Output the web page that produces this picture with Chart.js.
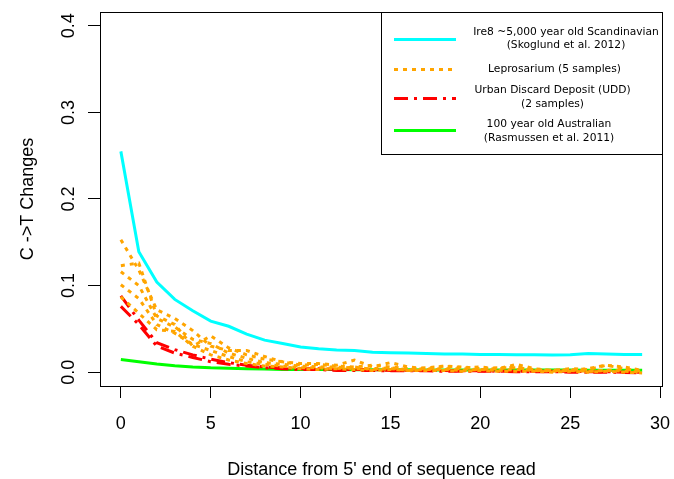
<!DOCTYPE html>
<html lang="en">
<head>
  <meta charset="UTF-8">
  <title>C->T changes by read position</title>
  <script src="https://cdn.jsdelivr.net/npm/chart.js"></script>
  <style>
    html, body { margin: 0; padding: 0; background: #fff; }
    #wrap { width: 674px; height: 479px; }
  </style>
</head>
<body>
  <div id="wrap"><canvas id="damageChart" width="674" height="479"></canvas></div>

  <script>
    // distance from 5' end (x)
    const distance = [0, 1, 2, 3, 4, 5, 6, 7, 8, 9, 10, 11, 12, 13, 14, 15, 16, 17, 18, 19, 20, 21, 22, 23, 24, 25, 26, 27, 28, 29];

    // Ire8 ~5,000 year old Scandinavian
    const ire8 = [0.255, 0.139, 0.104, 0.084, 0.071, 0.059, 0.053, 0.044, 0.037, 0.033, 0.029, 0.027, 0.0255, 0.025, 0.023, 0.0225, 0.022, 0.0215, 0.021, 0.021, 0.0205, 0.0205, 0.020, 0.020, 0.0198, 0.020, 0.0215, 0.021, 0.0205, 0.0205];

    // Leprosarium, 5 samples
    const lepro1 = [0.153, 0.118, 0.072, 0.062, 0.048, 0.030, 0.025, 0.025, 0.018, 0.012, 0.010, 0.010, 0.008, 0.014, 0.006, 0.011, 0.006, 0.004, 0.007, 0.005, 0.006, 0.004, 0.009, 0.004, 0.002, 0.002, 0.004, 0.008, 0.006, 0.002];
    const lepro2 = [0.123, 0.126, 0.065, 0.055, 0.030, 0.042, 0.028, 0.020, 0.015, 0.012, 0.008, 0.009, 0.007, 0.006, 0.008, 0.006, 0.004, 0.005, 0.007, 0.006, 0.004, 0.005, 0.005, 0.003, 0.002, 0.004, 0.003, 0.008, 0.004, 0.001];
    const lepro3 = [0.116, 0.100, 0.062, 0.052, 0.038, 0.033, 0.022, 0.016, 0.011, 0.009, 0.007, 0.006, 0.006, 0.004, 0.004, 0.005, 0.003, 0.004, 0.004, 0.004, 0.003, 0.004, 0.006, 0.002, 0.002, 0.003, 0.001, 0.002, 0.003, 0.001];
    const lepro4 = [0.101, 0.085, 0.055, 0.045, 0.032, 0.025, 0.018, 0.012, 0.009, 0.007, 0.005, 0.005, 0.004, 0.006, 0.003, 0.004, 0.002, 0.003, 0.003, 0.002, 0.003, 0.002, 0.003, 0.002, 0.001, 0.002, 0.001, 0.002, 0.001, 0.000];
    const lepro5 = [0.087, 0.068, 0.049, 0.047, 0.030, 0.020, 0.014, 0.010, 0.007, 0.006, 0.004, 0.003, 0.004, 0.003, 0.002, 0.003, 0.002, 0.002, 0.002, 0.001, 0.002, 0.001, 0.001, 0.001, 0.000, 0.001, 0.000, 0.001, 0.000, -0.001];

    // Urban Discard Deposit, 2 samples
    const udd1 = [0.088, 0.060, 0.034, 0.026, 0.020, 0.015, 0.011, 0.008, 0.006, 0.005, 0.004, 0.004, 0.003, 0.003, 0.003, 0.002, 0.002, 0.002, 0.002, 0.0015, 0.0015, 0.001, 0.001, 0.001, 0.001, 0.001, 0.0005, 0.0005, 0.000, 0.000];
    const udd2 = [0.076, 0.055, 0.030, 0.022, 0.017, 0.012, 0.009, 0.007, 0.005, 0.004, 0.003, 0.003, 0.002, 0.002, 0.002, 0.0015, 0.0015, 0.0015, 0.001, 0.001, 0.001, 0.001, 0.0005, 0.0005, 0.0005, 0.000, 0.000, 0.000, -0.0005, -0.001];

    // 100 year old Australian
    const australian = [0.0145, 0.012, 0.0095, 0.0075, 0.006, 0.005, 0.0045, 0.004, 0.0035, 0.0032, 0.003, 0.003, 0.003, 0.0028, 0.0028, 0.0027, 0.0027, 0.0026, 0.0026, 0.0025, 0.0025, 0.0025, 0.0024, 0.0024, 0.0024, 0.0024, 0.0023, 0.0023, 0.0023, 0.0023];

    const xTicks = [0, 5, 10, 15, 20, 25, 30];
    const yTicks = [0, 0.1, 0.2, 0.3, 0.4];

    const legendRows = [
      { lines: ['Ire8 ~5,000 year old Scandinavian', '(Skoglund et al. 2012)'], color: '#00ffff', dash: [], cx: 566 },
      { lines: ['Leprosarium (5 samples)'], color: '#ffa500', dash: [4, 5], cx: 554.5 },
      { lines: ['Urban Discard Deposit (UDD)', '(2 samples)'], color: '#ff0000', dash: [14, 6, 3, 6], cx: 552.5 },
      { lines: ['100 year old Australian', '(Rasmussen et al. 2011)'], color: '#00ff00', dash: [], cx: 549 }
    ];

    function pts(arr) {
      return arr.map((v, i) => ({ x: distance[i], y: v }));
    }

    function series(arr, color, dash, order) {
      return {
        data: pts(arr),
        borderColor: color,
        borderWidth: 3,
        borderDash: dash,
        pointRadius: 0,
        fill: false,
        tension: 0,
        order: order
      };
    }

    // R-style box around plot + boxed legend in the top right
    const rFrame = {
      id: 'rFrame',
      afterDraw(chart) {
        const { ctx, chartArea: a } = chart;
        ctx.save();
        ctx.strokeStyle = '#000';
        ctx.lineWidth = 1;
        ctx.strokeRect(a.left + 0.5, a.top + 0.5, a.right - a.left - 1, a.bottom - a.top);

        // legend
        const lx = 381, ly = a.top, lw = a.right - 381, lh = 142;
        ctx.fillStyle = '#fff';
        ctx.fillRect(lx, ly, lw, lh);
        ctx.strokeRect(lx + 0.5, ly + 0.5, lw - 1, lh);

        const lineY = [39.5, 69.5, 98.5, 130.5];
        const textY = [[32.5, 45.5], [69], [90.5, 104.5], [124.5, 138]];
        ctx.font = '10.7px "DejaVu Sans"';
        ctx.textAlign = 'center';
        ctx.textBaseline = 'middle';
        legendRows.forEach((row, i) => {
          ctx.beginPath();
          ctx.setLineDash(row.dash);
          ctx.strokeStyle = row.color;
          ctx.lineWidth = 3;
          ctx.moveTo(394, lineY[i]);
          ctx.lineTo(456, lineY[i]);
          ctx.stroke();
          ctx.setLineDash([]);
          ctx.fillStyle = '#000';
          row.lines.forEach((t, j) => ctx.fillText(t, row.cx, textY[i][j]));
        });
        ctx.restore();
      }
    };

    const ctx = document.getElementById('damageChart').getContext('2d');
    new Chart(ctx, {
      type: 'line',
      data: {
        datasets: [
          series(ire8, '#00ffff', [], 1),
          series(lepro1, '#ffa500', [4, 5], 2),
          series(lepro2, '#ffa500', [4, 5], 2),
          series(lepro3, '#ffa500', [4, 5], 2),
          series(lepro4, '#ffa500', [4, 5], 2),
          series(lepro5, '#ffa500', [4, 5], 2),
          series(udd1, '#ff0000', [14, 6, 3, 6], 3),
          series(udd2, '#ff0000', [14, 6, 3, 6], 3),
          series(australian, '#00ff00', [], 4)
        ]
      },
      options: {
        responsive: false,
        animation: false,
        layout: { padding: { top: 12, right: 11, left: 0, bottom: 0 } },
        plugins: { legend: { display: false }, tooltip: { enabled: false } },
        scales: {
          x: {
            type: 'linear',
            min: -1.16,
            max: 30.16,
            afterBuildTicks: s => { s.ticks = xTicks.map(v => ({ value: v })); },
            afterFit: s => { s.height = 93; s.paddingLeft = 0; s.paddingRight = 0; },
            grid: { drawOnChartArea: false, drawTicks: true, tickLength: 12, color: '#000', lineWidth: 1 },
            border: { display: false },
            ticks: { color: '#000', font: { family: 'Liberation Sans', size: 18 }, padding: 15, maxRotation: 0 },
            title: {
              display: true,
              text: "Distance from 5' end of sequence read",
              color: '#000',
              font: { family: 'Liberation Sans', size: 18, lineHeight: 1 },
              padding: { top: 0, bottom: 0 }
            }
          },
          y: {
            min: -0.016,
            max: 0.416,
            afterBuildTicks: s => { s.ticks = yTicks.map(v => ({ value: v })); },
            afterFit: s => { s.width = 100; s.paddingTop = 0; s.paddingBottom = 0; },
            grid: { drawOnChartArea: false, drawTicks: true, tickLength: 12, color: '#000', lineWidth: 1 },
            border: { display: false },
            ticks: {
              color: '#000',
              font: { family: 'Liberation Sans', size: 18 },
              padding: 6,
              minRotation: 90,
              maxRotation: 90,
              crossAlign: 'center',
              callback: v => v.toFixed(1)
            },
            title: {
              display: true,
              text: 'C ->T Changes',
              color: '#000',
              font: { family: 'Liberation Sans', size: 18, lineHeight: 1 },
              padding: { top: 19.5, bottom: 0 }
            }
          }
        }
      },
      plugins: [rFrame]
    });
  </script>
</body>
</html>
